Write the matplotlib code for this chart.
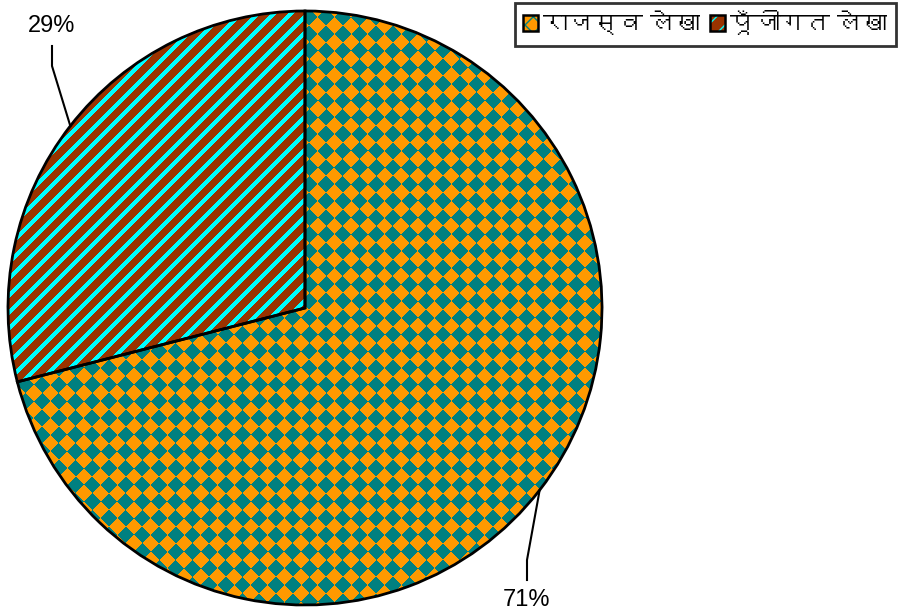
import numpy as np
import matplotlib
matplotlib.use('Agg')
import matplotlib.pyplot as plt
from matplotlib import font_manager
from matplotlib.ft2font import FT2Font
from matplotlib.patches import Patch, Wedge
from matplotlib.legend_handler import HandlerTuple

# data
categories = ['राजस्व लेखा', 'पूँजीगत लेखा']
shares = [71, 29]
pct_labels = ['71%', '29%']

# find a font that can draw devanagari, if any is installed
deva_family = None
for f in font_manager.fontManager.ttflist:
    try:
        if 0x0930 in FT2Font(f.fname).get_charmap():
            deva_family = f.name
            break
    except Exception:
        pass
families = ['Liberation Sans', 'DejaVu Sans']
if deva_family:
    families = ['Liberation Sans', deva_family, 'DejaVu Sans']
plt.rcParams['font.family'] = families

W, H = 898, 614
cx, cy, R = 305, H - 308, 297
orange, teal = '#FF9900', '#008080'
brown, cyan = '#993300', '#00FFFF'

fig = plt.figure(figsize=(W / 100, H / 100), dpi=100)
ax = fig.add_axes([0, 0, 1, 1])

wedges, _ = ax.pie(shares, startangle=90, counterclock=False, center=(cx, cy),
                   radius=R, colors=[orange, brown], wedgeprops=dict(linewidth=0))
ax.set_xlim(0, W)
ax.set_ylim(0, H)
ax.set_aspect('equal')
ax.axis('off')

# fill textures, built in pixel space (row 0 = top)
yy, xx = np.mgrid[0:H, 0:W].astype(float)
P = 16.7
# checkerboard turned 45 degrees -> diamonds
diam = (np.floor((xx + yy) / P) + np.floor((xx - yy) / P)) % 2 == 0
stripe = np.mod(xx + yy, P) < 6

def tex(mask, c_on, c_off):
    a = np.array(matplotlib.colors.to_rgb(c_on))
    b = np.array(matplotlib.colors.to_rgb(c_off))
    return np.where(mask[..., None], a, b)

textures = [tex(diam, teal, orange), tex(stripe, cyan, brown)]
for w, img in zip(wedges, textures):
    im = ax.imshow(img, extent=(0, W, 0, H), origin='upper', interpolation='antialiased', zorder=2)
    im.set_clip_path(w)
    ax.add_patch(Wedge(w.center, w.r, w.theta1, w.theta2, fill=False,
                       edgecolor='black', linewidth=2, zorder=3))

# percentage labels with leader lines
label_pos = [(527, H - 600), (52, H - 26)]
for w, txt, (tx, ty) in zip(wedges, pct_labels, label_pos):
    mid = np.deg2rad((w.theta1 + w.theta2) / 2)
    ex, ey = cx + R * np.cos(mid), cy + R * np.sin(mid)
    side = 1 if ty < cy else -1
    ax.plot([ex, tx, tx], [ey, ty + side * 40, ty + side * 20], color='black', lw=1.5, zorder=4)
    ax.text(tx, ty, txt, ha='center', va='center', fontsize=17, zorder=4)

handles = [
    (Patch(facecolor=orange, edgecolor=teal, hatch='xx', lw=0), Patch(fill=False, edgecolor='black', lw=1.8)),
    (Patch(facecolor=brown, edgecolor=cyan, hatch='//', lw=0), Patch(fill=False, edgecolor='black', lw=1.8)),
]
leg = ax.legend(handles, categories, handler_map={tuple: HandlerTuple(ndivide=1)},
                loc='upper right', bbox_to_anchor=(896 / W, 1 - 3 / H), bbox_transform=fig.transFigure,
                ncol=2, fontsize=18, frameon=True, fancybox=False, borderaxespad=0,
                handlelength=0.6, handleheight=0.6, handletextpad=0.2, columnspacing=0.4,
                borderpad=0.35)
leg.get_frame().set_edgecolor('black')
leg.get_frame().set_linewidth(2)

fig.savefig('out.png', dpi=100)
